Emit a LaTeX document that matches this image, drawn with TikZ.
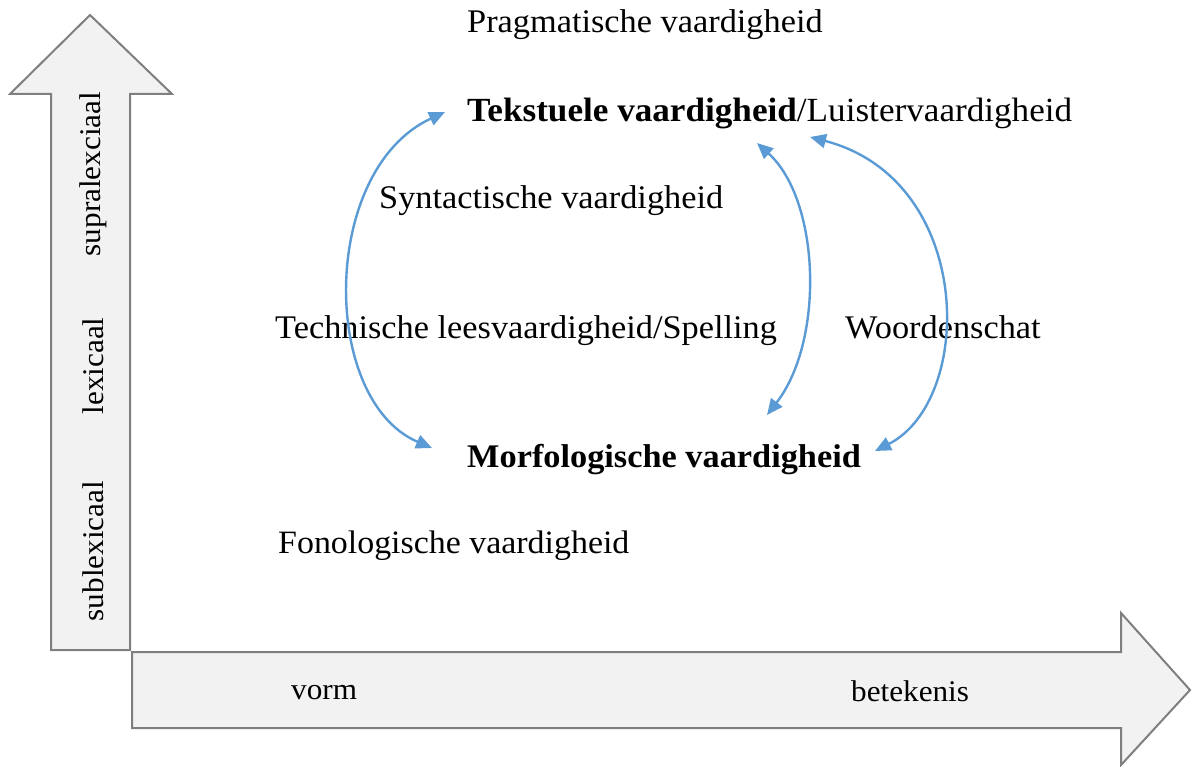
\documentclass[tikz,border=0pt]{standalone}
\usepackage{fontspec}
\setmainfont[FakeStretch=1.04]{Liberation Serif}
\usetikzlibrary{arrows.meta}
\definecolor{arrfill}{HTML}{F2F2F2}
\definecolor{arrline}{HTML}{7F7F7F}
\definecolor{conn}{HTML}{5B9BD5}
\tikzset{
  bigarrow/.style={draw=arrline, fill=arrfill, line width=2pt, line join=miter},
  lbl/.style={anchor=base west, inner sep=0pt, font=\fontsize{33}{36}\selectfont},
  axlbl/.style={inner sep=0pt, font=\fontsize{30}{34}\selectfont},
  link/.style={draw=conn, line width=2.4pt, {Triangle[length=16pt,width=14pt]}-{Triangle[length=16pt,width=14pt]}}
}
\begin{document}
\begin{tikzpicture}[x=1pt,y=-1pt]
\useasboundingbox (0,0) rectangle (1193,767);
% big arrows
\draw[bigarrow] (51,650) -- (51,94) -- (10,94) -- (90,15) -- (172,94) -- (130,94) -- (130,650) -- cycle;
\draw[bigarrow] (132,652) -- (1121,652) -- (1121,613) -- (1190,690) -- (1121,765) -- (1121,728) -- (132,728) -- cycle;
% axis labels
\node[axlbl, rotate=90] (supra) at (93,174) {supralexciaal};
\node[axlbl, rotate=90] (lex) at (93,366) {lexicaal};
\node[axlbl, rotate=90] (sub) at (93,551) {sublexicaal};
\node[axlbl, anchor=base west] (vorm) at (291,699) {vorm};
\node[axlbl, anchor=base west] (bet) at (851,701) {betekenis};
% labels
\node[lbl] (prag) at (467,33) {Pragmatische vaardigheid};
\node[lbl, font=\fontsize{33.8}{37}\selectfont] (tekst) at (467,122) {\textbf{Tekstuele vaardigheid}/Luistervaardigheid};
\node[lbl] (synt) at (379,209) {Syntactische vaardigheid};
\node[lbl] (tech) at (275,338) {Technische leesvaardigheid/Spelling};
\node[lbl] (woord) at (845,338) {Woordenschat};
\node[lbl] (morf) at (467,467) {\textbf{Morfologische vaardigheid}};
\node[lbl, font=\fontsize{32.6}{36}\selectfont] (fono) at (278,553) {Fonologische vaardigheid};
% connector end points
\coordinate (a1) at (432,448);
\coordinate (a2) at (445,112);
\coordinate (b1) at (767,415);
\coordinate (b2) at (757,143);
\coordinate (c1) at (875,451);
\coordinate (c2) at (810,137);
\draw[link] (a1) .. controls (320,400) and (320,170) .. (a2);
\draw[link] (b1) .. controls (825,340) and (820,200) .. (b2);
\draw[link] (c1) .. controls (975,400) and (975,180) .. (c2);
\end{tikzpicture}
\end{document}
